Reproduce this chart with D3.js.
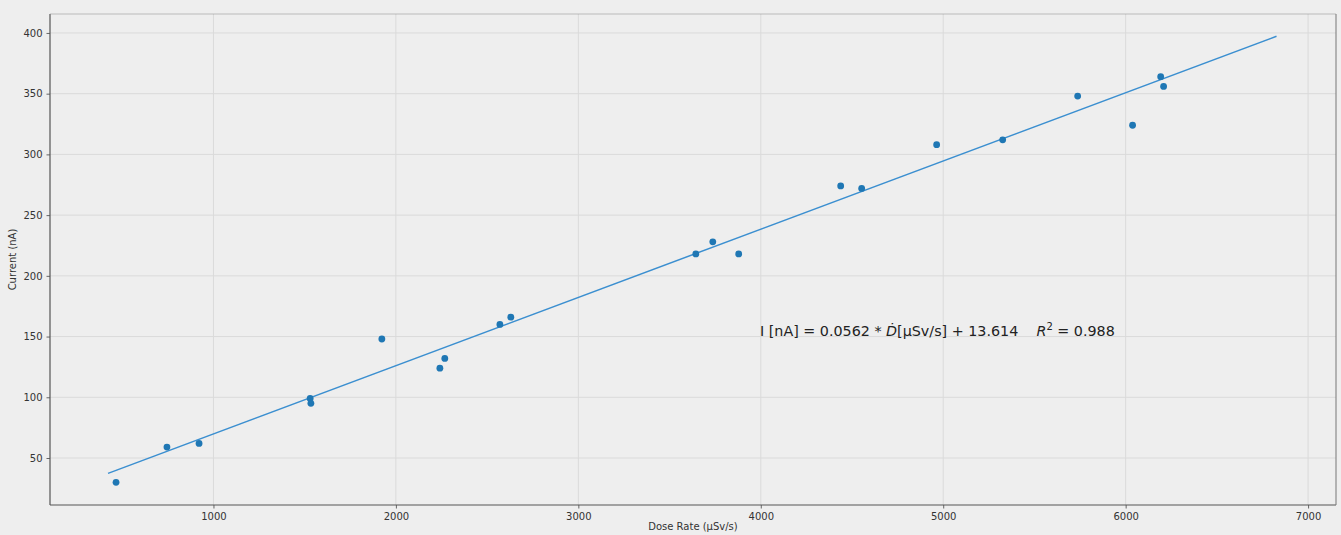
<!DOCTYPE html>
<html><head><meta charset="utf-8">
<script src="https://cdn.jsdelivr.net/npm/d3@7"></script>
<style>
html,body{margin:0;padding:0;background:#eeeeee;}
svg{display:block;}
text{font-family:"DejaVu Sans",sans-serif;}
</style></head>
<body><svg id="c" width="1341" height="535"></svg>
<script>
// Data
const doseRate = [466, 745, 921, 1530, 1534, 1923, 2241, 2268, 2570, 2630, 3644, 3737, 3879, 4438, 4553, 4964, 5326, 5737, 6038, 6192, 6208];
const current  = [30, 59, 62, 99, 95, 148, 124, 132, 160, 166, 218, 228, 218, 274, 272, 308, 312, 348, 324, 364, 356];
const fitSlope = 0.0562;
const fitIntercept = 13.614;
const fitRange = [422, 6827];
const xTicks = [1000, 2000, 3000, 4000, 5000, 6000, 7000];
const yTicks = [50, 100, 150, 200, 250, 300, 350, 400];
const xLabel = "Dose Rate (\u03bcSv/s)";
const yLabel = "Current (nA)";

const svg = d3.select("#c");
const m = {l:50, r:1336, t:14, b:505};
const x = d3.scaleLinear().domain([104, 7153]).range([m.l, m.r]);
const y = d3.scaleLinear().domain([11.3, 415.6]).range([m.b, m.t]);

// grid
const g = svg.append("g");
g.selectAll(".gx").data(xTicks).join("line")
  .attr("x1", d=>x(d)).attr("x2", d=>x(d)).attr("y1", m.t).attr("y2", m.b)
  .attr("stroke", "#dadada").attr("stroke-width", 1);
g.selectAll(".gy").data(yTicks).join("line")
  .attr("y1", d=>y(d)).attr("y2", d=>y(d)).attr("x1", m.l).attr("x2", m.r)
  .attr("stroke", "#dadada").attr("stroke-width", 1);

// axes
const xAxis = d3.axisBottom(x).tickValues(xTicks).tickSize(3.5).tickPadding(4).tickFormat(d3.format("d"));
const yAxis = d3.axisLeft(y).tickValues(yTicks).tickSize(3.5).tickPadding(4).tickFormat(d3.format("d"));
const ax = svg.append("g").attr("transform", `translate(0,${m.b})`).call(xAxis);
const ay = svg.append("g").attr("transform", `translate(${m.l},0)`).call(yAxis);
[ax, ay].forEach(a => {
  a.select(".domain").remove();
  a.selectAll("line").attr("stroke", "#666");
  a.selectAll("text").attr("fill", "#333").style("font-size", "10px");
});

// spines
svg.append("line").attr("x1", m.l).attr("x2", m.r).attr("y1", m.b).attr("y2", m.b).attr("stroke", "#555").attr("stroke-width", 1.2);
svg.append("line").attr("x1", m.l).attr("x2", m.l).attr("y1", m.t).attr("y2", m.b).attr("stroke", "#555").attr("stroke-width", 1.2);
svg.append("line").attr("x1", m.r).attr("x2", m.r).attr("y1", m.t).attr("y2", m.b).attr("stroke", "#777").attr("stroke-width", 1);
svg.append("line").attr("x1", m.l).attr("x2", m.r).attr("y1", m.t).attr("y2", m.t).attr("stroke", "#888").attr("stroke-width", 1).attr("opacity", 0.5);

// fit line
svg.append("line")
  .attr("x1", x(fitRange[0])).attr("y1", y(fitSlope*fitRange[0]+fitIntercept))
  .attr("x2", x(fitRange[1])).attr("y2", y(fitSlope*fitRange[1]+fitIntercept))
  .attr("stroke", "#3b8fd0").attr("stroke-width", 1.5);

// points
svg.append("g").selectAll("circle").data(doseRate).join("circle")
  .attr("cx", d=>x(d)).attr("cy", (d,i)=>y(current[i])).attr("r", 3.4)
  .attr("fill", "#1f77b4");

// equation
const eq = svg.append("text").attr("x", 760).attr("y", 336).attr("fill", "#222").style("font-size", "14.3px").attr("xml:space","preserve");
eq.append("tspan").text("I [nA] = 0.0562 * ");
eq.append("tspan").style("font-style", "italic").text("D\u0307");
eq.append("tspan").text("[\u03bcSv/s] + 13.614    ");
eq.append("tspan").style("font-style", "italic").text("R");
eq.append("tspan").attr("dy", -6).style("font-size", "10px").text("2");
eq.append("tspan").attr("dy", 6).text(" = 0.988");

// labels
svg.append("text").attr("x", (m.l+m.r)/2).attr("y", 530).attr("text-anchor", "middle")
  .attr("fill", "#333").style("font-size", "10px").text(xLabel);
svg.append("text").attr("transform", `translate(16,${(m.t+m.b)/2}) rotate(-90)`).attr("text-anchor", "middle")
  .attr("fill", "#333").style("font-size", "10px").text(yLabel);
</script></body></html>
